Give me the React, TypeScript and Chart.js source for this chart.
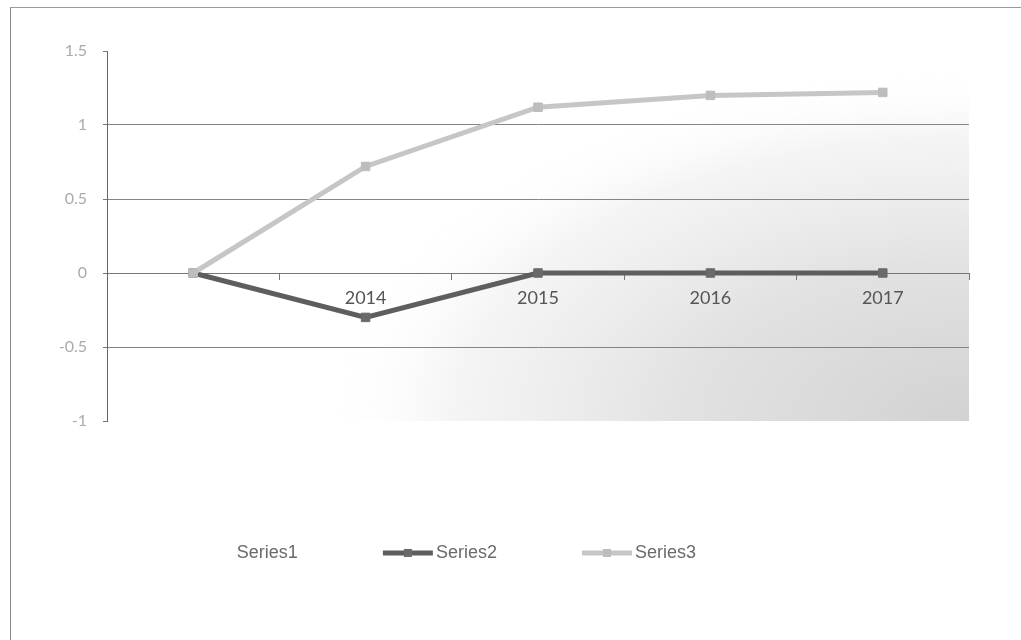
import React, { useEffect, useRef } from "react";
import { Chart, registerables } from "chart.js";

Chart.register(...registerables);

// ---- data ----
const categories: string[] = ["", "2014", "2015", "2016", "2017"];
const series1Values: (number | null)[] = [];
const series2Values: number[] = [0, -0.3, 0, 0, 0];
const series3Values: number[] = [0, 0.72, 1.12, 1.2, 1.22];
const yMin = -1;
const yMax = 1.5;
const yStep = 0.5;
const seriesNames: string[] = ["Series1", "Series2", "Series3"];

// ---- plot area background (scan-like shading toward bottom-right) ----
const plotBackground = {
  id: "plotBackground",
  beforeDatasetsDraw(chart: any) {
    const { ctx, chartArea } = chart;
    if (!chartArea) return;
    const { left, top, right, bottom } = chartArea;
    const w = right - left;
    const h = bottom - top;
    const sy = 0.55;
    ctx.save();
    ctx.globalCompositeOperation = "destination-over";
    ctx.beginPath();
    ctx.rect(left, top, w, h);
    ctx.clip();
    ctx.translate(right, bottom);
    ctx.scale(1, sy);
    const r = w * 0.75;
    const g = ctx.createRadialGradient(0, 0, 0, 0, 0, r);
    g.addColorStop(0, "rgba(210,210,210,1)");
    g.addColorStop(0.45, "rgba(226,226,226,1)");
    g.addColorStop(0.8, "rgba(242,242,242,0.8)");
    g.addColorStop(1, "rgba(255,255,255,0)");
    ctx.fillStyle = g;
    ctx.fillRect(-w, -h / sy, w, h / sy);
    ctx.restore();
  },
};

// ---- legend drawn under the plot ----
const sketchLegend = {
  id: "sketchLegend",
  afterDraw(chart: any) {
    const ctx = chart.ctx;
    const x0 = chart.width * 0.18;
    const step = chart.width * 0.195;
    const y = chart.height * 0.864;
    ctx.save();
    ctx.font = '18px "Liberation Sans", Arial, sans-serif';
    ctx.textBaseline = "middle";
    ctx.textAlign = "left";
    chart.data.datasets.forEach((ds: any, i: number) => {
      const x = x0 + i * step;
      if (ds.borderWidth > 0) {
        ctx.strokeStyle = ds.borderColor;
        ctx.lineWidth = 5;
        ctx.beginPath();
        ctx.moveTo(x, y);
        ctx.lineTo(x + 50, y);
        ctx.stroke();
        ctx.fillStyle = ds.pointBackgroundColor;
        ctx.fillRect(x + 25 - 4, y - 4, 8, 8);
      }
      ctx.fillStyle = "#6a6a6a";
      ctx.fillText(ds.label, x + 53, y);
    });
    ctx.restore();
  },
};

export default function App() {
  const canvasRef = useRef<HTMLCanvasElement | null>(null);

  useEffect(() => {
    if (!canvasRef.current) return;
    const chart = new Chart(canvasRef.current, {
      type: "line",
      data: {
        labels: categories,
        datasets: [
          {
            label: seriesNames[0],
            data: series1Values,
            borderWidth: 0,
            showLine: false,
            pointRadius: 0,
            borderColor: "rgba(0,0,0,0)",
            backgroundColor: "rgba(0,0,0,0)",
          },
          {
            label: seriesNames[1],
            data: series2Values,
            borderColor: "#5e5e5e",
            borderWidth: 5,
            backgroundColor: "#5e5e5e",
            pointStyle: "rect",
            pointRadius: 6,
            pointBackgroundColor: "#6a6a6a",
            pointBorderColor: "#6a6a6a",
            pointBorderWidth: 1,
            tension: 0,
          },
          {
            label: seriesNames[2],
            data: series3Values,
            borderColor: "#c6c6c6",
            borderWidth: 5,
            backgroundColor: "#c6c6c6",
            pointStyle: "rect",
            pointRadius: 6,
            pointBackgroundColor: "#bdbdbd",
            pointBorderColor: "#bdbdbd",
            pointBorderWidth: 1,
            tension: 0,
            order: -1,
          },
        ],
      },
      options: {
        responsive: false,
        animation: false,
        layout: { padding: { left: 0, top: 51, right: 52, bottom: 219 } },
        plugins: {
          legend: { display: false },
          tooltip: { enabled: false },
          title: { display: false },
        },
        scales: {
          x: {
            type: "category",
            position: { y: 0 } as any,
            offset: true,
            grid: {
              display: true,
              offset: true,
              drawOnChartArea: false,
              drawTicks: true,
              tickLength: 6,
              tickColor: "#777",
            },
            border: { display: true, color: "#777", width: 1 },
            ticks: {
              color: "#555",
              font: { family: "Lato, 'Open Sans', sans-serif", size: 18 },
              padding: 8,
              maxRotation: 0,
              autoSkip: false,
            },
          },
          y: {
            min: yMin,
            max: yMax,
            afterFit: (scale: any) => {
              scale.width = 107;
            },
            grid: {
              color: (c: any) =>
                c.tick && (c.tick.value === yMin || c.tick.value === yMax)
                  ? "rgba(0,0,0,0)"
                  : "#858585",
              lineWidth: 1,
              drawTicks: true,
              tickLength: 4,
              tickColor: "#777",
            },
            border: { display: true, color: "#666", width: 1 },
            ticks: {
              stepSize: yStep,
              color: "#ababab",
              font: { family: "Lato, 'Open Sans', sans-serif", size: 16 },
              padding: 16,
              callback: (v: any) => String(v),
            },
          },
        },
      },
      plugins: [plotBackground, sketchLegend],
    });
    return () => chart.destroy();
  }, []);

  return (
    <div
      style={{
        position: "fixed",
        left: 0,
        top: 0,
        width: 1021,
        height: 640,
        background: "#fff",
        overflow: "hidden",
      }}
    >
      <div
        style={{
          position: "absolute",
          left: 10,
          top: 7,
          right: 0,
          bottom: 0,
          borderTop: "1px solid #9a9a9a",
          borderLeft: "1px solid #8a8a8a",
        }}
      />
      <canvas
        ref={canvasRef}
        width={1021}
        height={640}
        style={{ position: "absolute", left: 0, top: 0, display: "block" }}
      />
    </div>
  );
}
